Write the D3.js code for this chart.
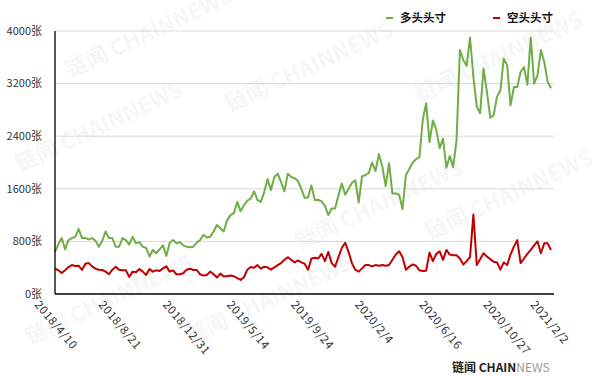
<!DOCTYPE html>
<html>
<head>
<meta charset="utf-8">
<script src="https://cdn.jsdelivr.net/npm/d3@7"></script>
<style>
  body { margin: 0; background: #fff; }
  svg { display: block; font-family: "Noto Sans CJK SC", "Noto Sans", sans-serif; }
</style>
</head>
<body>
<div id="chart"></div>
<script>
let longColor = "#70AD47";
let shortColor = "#C00000";
let gridColor = "#D9D9D9";

// weekly reports, 2018/4/10 .. 2021/2/2 (148 weeks)
const longValues = [
  640, 760, 850, 680, 820, 850, 870, 990, 850, 850,
  830, 850, 810, 720, 810, 950, 850, 850, 720, 720,
  850, 820, 750, 870, 770, 790, 720, 700, 570, 670,
  620, 680, 740, 580, 780, 820, 770, 790, 740, 720,
  710, 720, 780, 820, 900, 860, 870, 950, 1050, 1000,
  950, 1120, 1200, 1230, 1400, 1260, 1350, 1420, 1450, 1560,
  1430, 1400, 1550, 1750, 1580, 1780, 1830, 1700, 1560, 1830,
  1780, 1760, 1720, 1600, 1460, 1470, 1650, 1430, 1430, 1410,
  1340, 1200, 1300, 1300, 1500, 1680, 1510, 1600, 1690, 1730,
  1390, 1790, 1810, 1840, 2000, 1870, 2130, 1940, 1640, 1990,
  1530, 1530, 1510, 1290, 1810, 1900, 2000, 2050, 2080, 2650,
  2900, 2310, 2640, 2500, 2220, 2360, 1920, 2100, 1930, 2340,
  3710, 3560, 3470, 3900, 3300, 2850, 2750, 3430, 3075, 2680,
  2720, 3000, 3100, 3580, 3480, 2870, 3150, 3150, 3380, 3450,
  3180, 3900, 3200, 3330, 3710, 3530, 3230, 3130
];

const shortValues = [
  390, 360, 320, 360, 410, 440, 425, 430, 365, 460,
  470, 420, 385, 370, 365, 340, 300, 370, 415, 370,
  360, 360, 260, 340, 330, 380, 340, 290, 380, 340,
  360, 350, 390, 420, 340, 360, 300, 300, 315, 370,
  385, 365, 365, 300, 280, 290, 340, 300, 250, 310,
  270, 270, 280, 270, 240, 215, 255, 370, 410, 400,
  440, 385, 415, 405, 370, 405, 440, 470, 520, 560,
  520, 480, 510, 480, 460, 370, 540, 550, 540, 610,
  500, 640, 470, 415, 560, 700, 780, 640, 470, 370,
  340, 390, 440, 440, 420, 440, 430, 440, 430, 440,
  520, 600, 650, 560, 370, 415, 450, 430, 360, 350,
  355, 630, 500, 610, 650, 520, 670, 600, 590, 590,
  540, 450, 500, 560, 1210, 440, 530, 620, 570, 530,
  490, 480, 370, 480, 440, 600, 720, 820, 470, 540,
  610, 670, 740, 800, 620, 770, 770, 670
];

const tickLabels = ["2018/4/10", "2018/8/21", "2018/12/31", "2019/5/14", "2019/9/24",
  "2020/2/4", "2020/6/16", "2020/10/27", "2021/2/2"];
const tickWeeks = [0, 19, 38, 57, 76, 95, 114, 133, 147];
const yTicks = [0, 800, 1600, 2400, 3200, 4000];
const seriesNames = ["多头头寸", "空头头寸"];

const width = 600;
const height = 376;
const margin = { top: 31, right: 46, bottom: 82, left: 55 };

const svg = d3.select("#chart")
  .append("svg")
  .attr("width", width)
  .attr("height", height);

// faint watermarks
const marks = [[70, 78], [230, 112], [420, 102], [20, 172], [300, 250], [430, 240], [30, 345], [190, 345]];
svg.selectAll(".wm")
  .data(marks)
  .enter()
  .append("text")
  .attr("class", "wm")
  .attr("transform", (d) => `translate(${d[0]}, ${d[1]}) rotate(-25)`)
  .style("font-size", "22px")
  .style("font-weight", "bold")
  .style("fill", "#000")
  .style("opacity", 0.03)
  .text("链闻 CHAINNEWS");

const x = d3.scaleLinear()
  .domain([0, longValues.length - 1])
  .range([margin.left, width - margin.right - 3]);

const y = d3.scaleLinear()
  .domain([0, 4000])
  .range([height - margin.bottom, margin.top]);

// gridlines
svg.append("g")
  .selectAll("line")
  .data(yTicks.filter((d) => d > 0))
  .enter()
  .append("line")
  .attr("x1", margin.left)
  .attr("x2", width - margin.right)
  .attr("y1", (d) => y(d))
  .attr("y2", (d) => y(d))
  .style("stroke", gridColor)
  .style("stroke-width", 1);

// y labels
svg.append("g")
  .selectAll("text")
  .data(yTicks)
  .enter()
  .append("text")
  .attr("x", 42)
  .attr("y", (d) => y(d))
  .attr("dy", "0.35em")
  .style("text-anchor", "end")
  .style("font-size", "11px")
  .style("fill", "#333")
  .text((d) => d + "张");

// lines
const line = (vals) => d3.line()
  .x((d, i) => x(i))
  .y((d) => y(d))(vals);

svg.append("path")
  .attr("d", line(longValues))
  .style("fill", "none")
  .style("stroke", longColor)
  .style("stroke-width", 2)
  .style("stroke-linejoin", "round");

svg.append("path")
  .attr("d", line(shortValues))
  .style("fill", "none")
  .style("stroke", shortColor)
  .style("stroke-width", 2)
  .style("stroke-linejoin", "round");

// axes
svg.append("line")
  .attr("x1", margin.left).attr("x2", margin.left)
  .attr("y1", margin.top).attr("y2", y(0))
  .style("stroke", "#000").style("stroke-width", 1.3);

svg.append("line")
  .attr("x1", margin.left).attr("x2", width - margin.right)
  .attr("y1", y(0)).attr("y2", y(0))
  .style("stroke", "#000").style("stroke-width", 1.3);

// x labels
svg.append("g")
  .selectAll("text")
  .data(tickLabels)
  .enter()
  .append("text")
  .attr("transform", (d, i) => `translate(${x(tickWeeks[i]) - 21}, 305) rotate(50)`)
  .style("font-size", "11.5px")
  .style("letter-spacing", "0.6px")
  .style("fill", "#333")
  .text((d) => d);

// legend
const legend = svg.append("g")
  .selectAll("g")
  .data(seriesNames)
  .enter()
  .append("g")
  .attr("transform", (d, i) => `translate(${386 + i * 107}, 18)`);

legend.append("line")
  .attr("x1", 0).attr("x2", 7)
  .style("stroke", (d, i) => (i === 0 ? longColor : shortColor))
  .style("stroke-width", 2);

legend.append("text")
  .attr("x", 14)
  .attr("dy", "0.35em")
  .style("font-size", "11.5px")
  .style("font-weight", "bold")
  .style("fill", "#111")
  .text((d) => d);

// logo
const logo = svg.append("text")
  .attr("x", 452)
  .attr("y", 372)
  .style("font-size", "12px")
  .style("font-weight", "bold");
logo.append("tspan").style("fill", "#222").text("链闻 CHAIN");
logo.append("tspan").style("fill", "#999").style("font-weight", "normal").text("NEWS");
</script>
</body>
</html>
